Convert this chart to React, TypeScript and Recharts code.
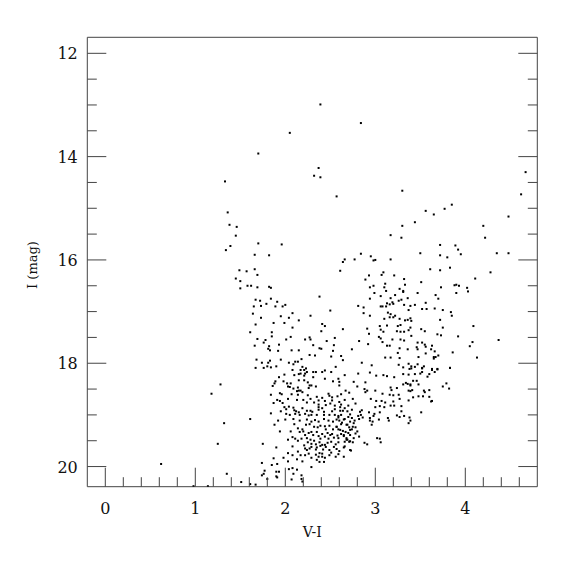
import React from 'react';
import { ScatterChart, Scatter, XAxis, YAxis } from 'recharts';

// V-I colour, I magnitude
const brightStars = [
  [2.39, 12.99], [2.84, 13.35], [2.05, 13.54], [1.70, 13.94], [2.37, 14.22], [2.32, 14.37], [2.39, 14.40],
  [1.33, 14.48], [2.57, 14.77], [3.30, 14.66], [4.67, 14.30], [4.62, 14.73],
  [1.36, 15.08], [1.38, 15.32], [1.46, 15.36], [1.45, 15.53], [1.34, 15.81], [1.39, 15.73], [1.70, 15.68],
  [1.66, 15.90], [1.82, 15.91], [1.96, 15.70], [2.66, 15.99], [2.77, 15.99], [2.84, 15.88], [2.95, 15.93],
  [2.98, 16.01], [3.17, 15.52], [3.17, 15.99], [3.30, 15.34], [3.29, 15.57], [3.44, 15.27], [3.56, 15.05],
  [3.65, 15.12], [3.77, 15.01], [3.85, 14.93], [3.50, 15.87], [3.72, 15.71], [3.72, 15.91], [3.80, 15.95],
  [3.89, 15.72], [3.92, 15.80], [3.95, 15.89], [4.20, 15.34], [4.22, 15.57], [4.48, 15.16], [4.35, 15.87],
  [4.48, 15.87],
];

const blueBranch = [
  [1.49, 16.20], [1.57, 16.22], [1.66, 16.18], [1.69, 16.29], [1.45, 16.36], [1.50, 16.41], [1.58, 16.50],
  [1.62, 16.50], [1.50, 16.55], [1.69, 16.53], [1.82, 16.52], [1.84, 16.54], [1.67, 16.77], [1.72, 16.79],
  [1.84, 16.75], [1.91, 16.81], [1.65, 16.90], [1.73, 16.89], [1.79, 16.85], [1.89, 16.90], [1.97, 16.90],
  [2.00, 16.87], [1.64, 17.04], [1.73, 17.12], [1.95, 17.09], [2.04, 17.12], [1.67, 17.25], [1.87, 17.22],
  [1.99, 17.22], [1.61, 17.40], [1.85, 17.40], [1.85, 17.48], [1.69, 17.53], [1.78, 17.55], [1.76, 17.60],
  [2.01, 17.54], [1.66, 17.66], [1.82, 17.67], [1.93, 17.64], [1.81, 17.72], [1.83, 17.75], [1.92, 17.76],
  [1.68, 17.93], [1.74, 17.99], [1.81, 17.99], [1.83, 17.95], [1.95, 17.93], [2.04, 17.99], [1.67, 18.09],
  [1.76, 18.09], [1.80, 18.06], [1.84, 18.08], [1.90, 18.06],
];

const redGiants = [
  [2.64, 16.04], [3.00, 16.00], [2.61, 16.21], [2.93, 16.30], [2.89, 16.38], [3.09, 16.24], [3.07, 16.29],
  [3.21, 16.30], [3.32, 16.37], [2.98, 16.50], [2.94, 16.53], [3.11, 16.46], [3.10, 16.53], [3.12, 16.60],
  [3.33, 16.48], [3.27, 16.56], [3.31, 16.60], [3.31, 16.62], [3.47, 16.64], [2.99, 16.64], [3.06, 16.70],
  [3.22, 16.68], [3.17, 16.74], [2.38, 16.71], [3.19, 16.82], [3.29, 16.77], [3.36, 16.74], [2.94, 16.75],
  [3.26, 16.79], [3.16, 16.86], [3.13, 16.84], [2.81, 16.89], [3.06, 16.90], [3.08, 16.90], [3.12, 16.90],
  [3.20, 16.85], [3.32, 16.87], [3.39, 16.89], [3.44, 16.87], [3.37, 16.97], [2.50, 16.98], [2.87, 16.92],
  [2.87, 17.03], [3.14, 17.02], [3.17, 17.05], [3.20, 17.11], [3.22, 17.08], [3.16, 17.11], [3.27, 17.14],
  [3.33, 17.17], [3.36, 17.16], [3.39, 17.13], [3.40, 17.18], [2.94, 17.08], [3.10, 17.14], [2.08, 17.03],
  [2.15, 17.17], [2.28, 17.08], [2.08, 17.31], [2.41, 17.24], [2.44, 17.28], [2.64, 17.34], [2.91, 17.33],
  [3.05, 17.28], [3.13, 17.27], [3.25, 17.28], [3.28, 17.26], [3.06, 17.35], [3.09, 17.39], [3.24, 17.38],
  [3.28, 17.39], [3.32, 17.39], [3.37, 17.36], [3.39, 17.31], [2.40, 17.38], [2.06, 17.49], [2.22, 17.54],
  [2.27, 17.50], [2.28, 17.54], [2.46, 17.57], [2.55, 17.51], [2.82, 17.57], [2.93, 17.43], [3.04, 17.49],
  [3.06, 17.52], [3.08, 17.59], [3.19, 17.54], [3.28, 17.54], [3.32, 17.56], [3.40, 17.47], [3.47, 17.60],
  [2.31, 17.65], [2.38, 17.71], [2.40, 17.72], [2.54, 17.65], [2.74, 17.73], [2.92, 17.63], [3.13, 17.66],
  [3.16, 17.66], [3.27, 17.71], [3.36, 17.73], [3.46, 17.69], [3.47, 17.73], [2.07, 17.75], [2.15, 17.75],
  [2.53, 17.76], [2.27, 17.84], [2.33, 17.85], [2.51, 17.87], [2.62, 17.86], [3.11, 17.89], [3.17, 17.89],
  [3.25, 17.80], [3.27, 17.90], [3.48, 17.88], [2.11, 17.97], [2.14, 17.97], [2.18, 17.92], [2.09, 18.02],
  [2.64, 17.94], [2.85, 17.99], [2.96, 18.04], [2.56, 18.07], [2.19, 18.07], [2.23, 18.10], [3.26, 18.03],
  [3.31, 18.08], [3.37, 18.01], [3.40, 18.06], [3.44, 18.07], [3.47, 18.02],
];

const redRight = [
  [3.61, 16.18], [3.72, 16.20], [3.83, 16.15], [4.28, 16.24], [4.11, 16.36], [3.51, 16.43], [3.73, 16.53],
  [3.88, 16.49], [3.90, 16.48], [3.93, 16.50], [4.02, 16.54], [4.03, 16.61], [3.90, 16.64], [3.67, 16.68],
  [3.70, 16.75], [3.56, 16.83], [3.52, 16.95], [3.57, 16.95], [3.66, 16.94], [3.75, 16.97], [3.84, 17.01],
  [3.85, 17.08], [3.72, 17.16], [4.09, 17.28], [3.75, 17.31], [3.51, 17.34], [3.55, 17.38], [3.69, 17.44],
  [3.73, 17.46], [3.92, 17.48], [4.37, 17.55], [4.08, 17.59], [4.05, 17.67], [3.52, 17.60], [3.55, 17.64],
  [3.56, 17.68], [3.63, 17.66], [3.62, 17.73], [3.66, 17.77], [3.56, 17.81], [3.86, 17.79], [3.70, 17.85],
  [3.65, 17.88], [3.67, 17.88], [3.65, 17.91], [4.13, 17.89], [3.54, 18.06], [3.52, 18.09], [3.63, 18.11],
  [3.69, 18.11], [3.83, 18.09],
  [3.40, 18.10], [3.52, 18.10], [3.63, 18.13], [3.69, 18.12], [3.83, 18.09], [3.44, 18.21], [3.50, 18.20],
  [3.52, 18.17], [3.60, 18.21], [3.58, 18.26], [3.66, 18.17], [3.42, 18.34], [3.46, 18.34], [3.48, 18.41],
  [3.39, 18.41], [3.79, 18.39], [3.75, 18.45], [3.82, 18.49], [3.41, 18.52], [3.39, 18.54], [3.54, 18.53],
  [3.55, 18.56], [3.60, 18.52], [3.42, 18.66], [3.48, 18.64], [3.53, 18.64], [3.60, 18.65], [3.62, 18.74],
  [3.63, 18.73], [3.51, 18.95], [3.39, 19.11],
];

const sparseFaint = [
  [1.28, 18.41], [1.18, 18.59], [1.61, 19.08], [1.32, 19.16], [1.25, 19.56], [1.75, 19.56], [0.62, 19.95],
  [1.74, 19.93], [1.77, 20.08], [1.76, 20.14], [1.74, 20.17], [1.80, 20.24], [1.35, 20.14], [1.51, 20.30],
  [1.61, 20.34], [1.67, 20.35], [0.98, 20.38], [1.14, 20.38],
];

const cloudLeft = [
  [2.08, 18.13], [2.17, 18.13], [2.21, 18.13], [2.24, 18.17], [2.17, 18.20], [2.22, 18.20], [2.31, 18.17],
  [2.34, 18.17], [2.41, 18.17], [2.44, 18.14], [2.51, 18.17], [1.99, 18.22], [2.10, 18.23], [2.15, 18.21],
  [2.21, 18.24], [2.31, 18.27], [2.44, 18.30], [2.59, 18.30], [1.93, 18.27], [1.89, 18.35], [1.88, 18.39],
  [1.98, 18.35], [2.02, 18.39], [2.06, 18.39], [2.15, 18.33], [2.21, 18.33], [2.25, 18.37], [2.27, 18.43],
  [2.29, 18.43], [2.53, 18.35], [2.60, 18.36], [1.86, 18.44], [2.03, 18.45], [2.05, 18.46], [2.09, 18.49],
  [2.14, 18.47], [2.15, 18.53], [2.17, 18.53], [2.19, 18.56], [2.26, 18.48], [2.34, 18.45], [2.60, 18.43],
  [1.94, 18.58], [1.96, 18.60], [2.07, 18.60], [2.13, 18.54], [2.14, 18.61], [2.25, 18.62], [2.35, 18.65],
  [2.41, 18.67], [2.48, 18.59], [2.49, 18.63], [2.52, 18.66], [2.58, 18.64], [2.52, 18.72], [1.84, 18.61],
  [1.91, 18.71], [1.94, 18.73], [1.87, 18.77], [1.97, 18.77], [2.03, 18.69], [2.13, 18.71], [2.20, 18.71],
  [2.24, 18.76], [2.28, 18.69], [2.37, 18.72], [2.32, 18.76], [2.37, 18.80], [2.44, 18.73], [2.45, 18.81],
  [2.50, 18.78], [2.55, 18.82], [2.60, 18.75], [2.61, 18.85], [1.99, 18.85], [2.04, 18.84], [2.01, 18.89],
  [2.09, 18.86], [2.10, 18.91], [2.12, 18.93], [2.15, 18.95], [2.19, 18.87], [2.24, 18.92], [2.28, 18.92],
  [2.30, 18.94], [2.37, 18.85], [2.37, 18.90], [2.41, 18.87], [2.43, 18.94], [2.52, 18.93], [2.55, 18.89],
  [2.61, 18.92], [1.95, 18.93], [1.84, 18.97], [2.01, 18.98], [2.05, 19.00], [2.11, 18.98], [2.16, 19.00],
  [2.22, 18.98], [2.26, 19.01], [2.29, 19.00], [2.35, 19.00], [2.43, 19.00], [2.49, 19.00], [2.55, 19.00],
  [2.59, 19.02], [1.92, 19.11], [2.00, 19.09], [2.09, 19.08], [2.16, 19.11], [2.24, 19.09], [2.29, 19.13],
  [2.33, 19.10], [2.37, 19.13], [2.43, 19.08], [2.48, 19.11], [2.53, 19.13], [2.57, 19.09], [2.60, 19.11],
  [1.88, 19.19], [2.10, 19.18], [2.14, 19.26], [2.19, 19.28], [2.23, 19.19], [2.27, 19.18], [2.32, 19.23],
  [2.36, 19.24], [2.39, 19.21], [2.44, 19.22], [2.45, 19.28], [2.49, 19.21], [2.53, 19.28], [2.57, 19.23],
  [2.59, 19.28], [1.94, 19.32], [2.06, 19.32], [2.16, 19.33], [2.20, 19.32], [2.22, 19.39], [2.26, 19.35],
  [2.29, 19.33], [2.31, 19.39], [2.35, 19.33], [2.37, 19.41], [2.39, 19.46], [2.41, 19.37], [2.44, 19.42],
  [2.47, 19.35], [2.48, 19.46], [2.50, 19.39], [2.52, 19.37], [2.54, 19.44], [2.58, 19.40], [2.59, 19.45],
  [2.08, 19.43], [2.03, 19.48], [2.11, 19.46], [2.14, 19.50], [2.18, 19.46], [2.24, 19.45], [2.28, 19.48],
  [2.25, 19.53], [2.29, 19.56], [2.32, 19.50], [2.34, 19.57], [2.38, 19.53], [2.41, 19.58], [2.44, 19.58],
  [2.47, 19.54], [2.51, 19.52], [2.56, 19.57], [2.59, 19.53], [1.90, 19.63], [2.08, 19.61], [2.21, 19.59],
  [2.22, 19.65], [2.24, 19.68], [2.27, 19.65], [2.29, 19.62], [2.34, 19.67], [2.35, 19.63], [2.39, 19.60],
  [2.42, 19.67], [2.45, 19.62], [2.49, 19.68], [2.54, 19.62], [2.57, 19.66], [2.60, 19.70], [2.03, 19.74],
  [2.08, 19.78], [2.14, 19.71], [2.17, 19.78], [2.22, 19.78], [2.26, 19.75], [2.29, 19.83], [2.34, 19.77],
  [2.37, 19.81], [2.38, 19.74], [2.41, 19.75], [2.44, 19.83], [2.49, 19.78], [2.51, 19.73], [2.56, 19.81],
  [2.59, 19.76], [1.87, 19.84], [1.98, 19.83], [2.03, 19.90], [2.13, 19.86], [2.19, 19.90], [2.29, 20.01],
  [2.35, 19.87], [2.38, 19.91], [2.41, 19.81], [2.43, 19.91], [1.85, 19.97], [1.91, 19.95], [1.90, 20.10],
  [1.93, 20.10], [2.04, 20.05], [2.08, 20.03], [2.13, 20.06], [2.09, 20.14], [2.18, 20.17], [1.90, 20.19],
  [1.91, 20.21], [2.07, 20.25], [2.18, 20.24], [2.19, 20.29],
];

const cloudRight = [
  [2.66, 18.23], [2.81, 18.20], [2.94, 18.18], [3.01, 18.24], [3.09, 18.23], [3.13, 18.25], [3.21, 18.27],
  [3.31, 18.21], [3.37, 18.22], [3.38, 18.11], [2.76, 18.36], [2.89, 18.37], [2.80, 18.45], [2.88, 18.50],
  [2.91, 18.53], [2.89, 18.56], [3.00, 18.53], [3.17, 18.47], [3.18, 18.52], [3.24, 18.48], [3.31, 18.41],
  [3.34, 18.38], [3.36, 18.40], [3.39, 18.43], [2.67, 18.53], [2.71, 18.57], [2.62, 18.60], [3.08, 18.59],
  [3.16, 18.61], [3.20, 18.62], [3.26, 18.61], [3.37, 18.53], [2.75, 18.69], [2.66, 18.71], [2.95, 18.69],
  [3.01, 18.73], [3.07, 18.73], [3.11, 18.76], [3.20, 18.74], [3.27, 18.69], [3.37, 18.72], [2.78, 18.78],
  [2.62, 18.80], [2.70, 18.82], [2.66, 18.87], [2.74, 18.90], [3.00, 18.85], [3.05, 18.83], [3.10, 18.85],
  [3.17, 18.82], [3.21, 18.82], [3.29, 18.83], [3.05, 18.95], [3.29, 18.93], [2.64, 18.92], [2.69, 18.93],
  [2.72, 18.99], [2.62, 19.00], [2.85, 18.91], [2.84, 19.00], [2.93, 18.95], [2.98, 19.02], [2.94, 19.06],
  [2.99, 18.98], [3.24, 19.01], [3.27, 19.04], [3.32, 19.02], [3.38, 19.05], [3.37, 19.16], [3.14, 19.06],
  [3.15, 19.11], [2.86, 19.05], [2.82, 19.08], [2.70, 19.04], [2.74, 19.06], [2.65, 19.09], [2.72, 19.13],
  [2.77, 19.11], [2.76, 19.16], [2.94, 19.11], [2.97, 19.13], [3.04, 19.09], [2.96, 19.19], [2.62, 19.18],
  [2.68, 19.19], [2.71, 19.24], [2.78, 19.24], [2.74, 19.28], [2.64, 19.31], [2.67, 19.33], [2.70, 19.35],
  [2.62, 19.37], [2.65, 19.41], [2.72, 19.39], [2.68, 19.45], [2.69, 19.48], [2.66, 19.52], [2.72, 19.51],
  [2.75, 19.53], [2.82, 19.42], [3.02, 19.45], [3.05, 19.46], [3.06, 19.53], [2.88, 19.54], [2.91, 19.57],
  [2.65, 19.63], [2.73, 19.69], [2.65, 19.81],
  [2.59, 19.05], [2.63, 19.15], [2.66, 19.08], [2.69, 19.19], [2.72, 19.29], [2.75, 19.23], [2.78, 19.36],
  [2.80, 19.32], [2.65, 19.39], [2.68, 19.48], [2.71, 19.52], [2.76, 19.45], [2.61, 19.29], [2.57, 19.23],
  [2.66, 19.61], [2.72, 19.68], [2.81, 19.02], [2.83, 18.94],
];

const xTicks = [0, 0.2, 0.4, 0.6, 0.8, 1, 1.2, 1.4, 1.6, 1.8, 2, 2.2, 2.4, 2.6, 2.8, 3, 3.2, 3.4, 3.6, 3.8, 4, 4.2, 4.4, 4.6];
const xLabelled = [0, 1, 2, 3, 4];
const yTicks = [12, 12.5, 13, 13.5, 14, 14.5, 15, 15.5, 16, 16.5, 17, 17.5, 18, 18.5, 19, 19.5, 20];
const yLabelled = [12, 14, 16, 18, 20];

const stars = [...brightStars, ...blueBranch, ...redGiants, ...redRight, ...sparseFaint, ...cloudLeft, ...cloudRight].map(
  ([x, y]) => ({ x, y })
);

const FONT = '"DejaVu Serif", serif';
const INK = '#444';
const inList = (list: number[], v: number) => list.some((t) => Math.abs(t - v) < 1e-6);

const BottomTick = (p: any) => {
  const v = p.payload.value;
  const major = inList(xLabelled, v);
  return (
    <g>
      <line x1={p.x} y1={p.y} x2={p.x} y2={p.y - (major ? 19 : 9.5)} stroke={INK} />
      {major && (
        <text x={p.x} y={p.y + 27} textAnchor="middle" fontFamily={FONT} fontSize={16} fill="#111">
          {v}
        </text>
      )}
    </g>
  );
};

const TopTick = (p: any) => {
  const len = inList(xLabelled, p.payload.value) ? 19 : 9.5;
  return <line x1={p.x} y1={p.y} x2={p.x} y2={p.y + len} stroke={INK} />;
};

const LeftTick = (p: any) => {
  const v = p.payload.value;
  const major = inList(yLabelled, v);
  return (
    <g>
      <line x1={p.x} y1={p.y} x2={p.x + (major ? 19 : 9.5)} y2={p.y} stroke={INK} />
      {major && (
        <text x={p.x - 9.5} y={p.y + 6} textAnchor="end" fontFamily={FONT} fontSize={16} fill="#111">
          {v}
        </text>
      )}
    </g>
  );
};

const RightTick = (p: any) => {
  const len = inList(yLabelled, p.payload.value) ? 19 : 9.5;
  return <line x1={p.x} y1={p.y} x2={p.x - len} y2={p.y} stroke={INK} />;
};

const YTitle = ({ viewBox }: any) => {
  const x = viewBox.x + 10;
  const y = viewBox.y + viewBox.height / 2 + 3;
  return (
    <text x={x} y={y} transform={`rotate(-90 ${x} ${y})`} textAnchor="middle" fontFamily={FONT} fontSize={13} fill="#111">
      I (mag)
    </text>
  );
};

const Dot = (p: any) => <rect x={p.cx - 1} y={p.cy - 1} width={2} height={2} fill="#000" />;

const App: React.FC = () => {
  return (
    <ScatterChart width={560} height={560} margin={{ top: 28.3, right: 29.7, bottom: 21.3, left: 19.3 }}>
      <XAxis
        xAxisId="b"
        dataKey="x"
        type="number"
        orientation="bottom"
        domain={[-0.2, 4.8]}
        allowDataOverflow
        ticks={xTicks}
        interval={0}
        height={60}
        tickSize={0}
        tickMargin={0}
        tickLine={false}
        tick={BottomTick}
        axisLine={{ stroke: INK }}
        label={{ value: 'V-I', position: 'insideBottom', offset: 9.4, fontFamily: FONT, fontSize: 14, fill: '#111' }}
      />
      <XAxis
        xAxisId="t"
        type="number"
        orientation="top"
        domain={[-0.2, 4.8]}
        allowDataOverflow
        ticks={xTicks}
        interval={0}
        height={1}
        tickSize={0}
        tickMargin={0}
        tickLine={false}
        tick={TopTick}
        axisLine={{ stroke: INK }}
      />
      <YAxis
        yAxisId="l"
        dataKey="y"
        type="number"
        orientation="left"
        reversed
        domain={[11.69, 20.39]}
        allowDataOverflow
        ticks={yTicks}
        interval={0}
        width={60}
        tickSize={0}
        tickMargin={0}
        tickLine={false}
        tick={LeftTick}
        axisLine={{ stroke: INK }}
        label={{ content: YTitle }}
      />
      <YAxis
        yAxisId="r"
        type="number"
        orientation="right"
        reversed
        domain={[11.69, 20.39]}
        allowDataOverflow
        ticks={yTicks}
        interval={0}
        width={1}
        tickSize={0}
        tickMargin={0}
        tickLine={false}
        tick={RightTick}
        axisLine={{ stroke: INK }}
      />
      <Scatter xAxisId="b" yAxisId="l" data={stars} shape={Dot} isAnimationActive={false} />
    </ScatterChart>
  );
};

export default App;
